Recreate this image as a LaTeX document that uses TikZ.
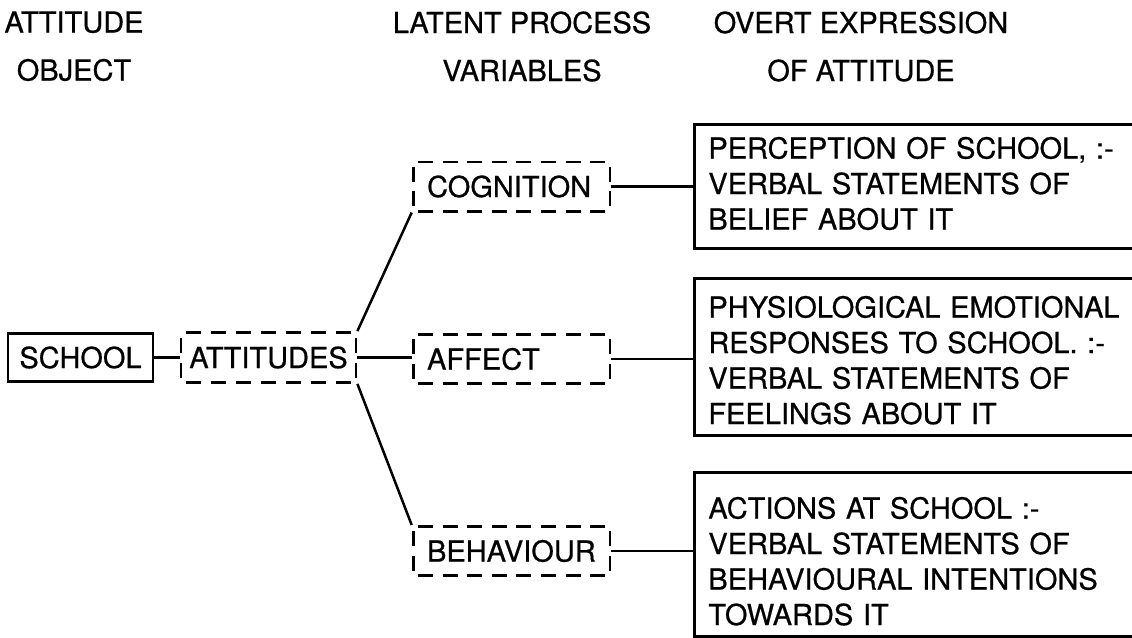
\documentclass[tikz,border=0pt]{standalone}
\usepackage{fontspec}
\setmainfont{TeX Gyre Heros}[FakeBold=0.6]
\begin{document}
\begin{tikzpicture}[x=0.5pt,y=-0.5pt,
  every node/.style={font=\fontsize{14.5pt}{17.75pt}\selectfont, inner sep=0pt},
  heading/.style={align=center, anchor=north, font=\fontsize{14.5pt}{24pt}\selectfont},
  solidbox/.style={draw, line width=1.25pt, minimum width=72.5pt, minimum height=24pt},
  % dash period fits the sides exactly, so every corner sits in a dash
  dashbox/.style={draw, line width=1.4pt, dash pattern=on 7.5pt off 4.8pt, dash phase=9.9pt,
    minimum height=24.6pt},
  attbox/.style={dashbox, dash pattern=on 7.5pt off 5pt, dash phase=10pt,
    minimum width=87.5pt, minimum height=25pt},
  latentbox/.style={dashbox, minimum width=98.4pt, text width=84.4pt, inner xsep=7pt, align=left},
  overtbox/.style={draw, line width=1.25pt, anchor=north west, minimum width=230pt},
  overttext/.style={anchor=north west, align=left, text width=210pt},
  link/.style={line width=1.25pt}]
\useasboundingbox (0,0) rectangle (1132,638);
\fill[white] (0,0) rectangle (1132,638);

% column headings
\node[heading] (hobj) at (74,11) {ATTITUDE\\OBJECT};
\node[heading] (hlat) at (522,11) {LATENT PROCESS\\VARIABLES};
\node[heading] (hovt) at (861,11) {OVERT EXPRESSION\\OF ATTITUDE};

% object and attitude
\node[solidbox] (school) at (80.5,357.5) {SCHOOL};
\node[attbox] (att) at (268.5,357.5) {ATTITUDES};

% latent process variables
\node[latentbox] (cog) at (511.5,186.5) {COGNITION};
\node[latentbox] (aff) at (511.5,359) {AFFECT};
\node[latentbox] (beh) at (511.5,551) {BEHAVIOUR};

% overt expressions: open boxes running off the right edge
\node[overtbox, minimum height=62pt] (ov1) at (693,123) {};
\node[overtbox, minimum height=78.5pt] (ov2) at (693,277) {};
\node[overtbox, minimum height=82pt] (ov3) at (693,471) {};
\node[overttext] (ov1t) at (708,136.5)
  {PERCEPTION OF SCHOOL, :-\\VERBAL STATEMENTS OF\\BELIEF ABOUT IT};
\node[overttext] (ov2t) at (708,295.5)
  {PHYSIOLOGICAL EMOTIONAL\\RESPONSES TO SCHOOL. :-\\VERBAL STATEMENTS OF\\FEELINGS ABOUT IT};
\node[overttext] (ov3t) at (708,496.5)
  {ACTIONS AT SCHOOL :-\\VERBAL STATEMENTS OF\\BEHAVIOURAL INTENTIONS\\TOWARDS IT};

% connectors
\draw[link] (school.east) -- (att.west);
\draw[link] (att.north east) -- (cog.south west);
\draw[link] (att.east) -- (att.east -| aff.west);
\draw[link] (att.south east) -- (beh.north west);
\draw[link] (cog.east) -- (cog.east -| ov1.west);
\draw[link] (aff.east) -- (aff.east -| ov2.west);
\draw[link] (beh.east) -- (beh.east -| ov3.west);
\end{tikzpicture}
\end{document}
